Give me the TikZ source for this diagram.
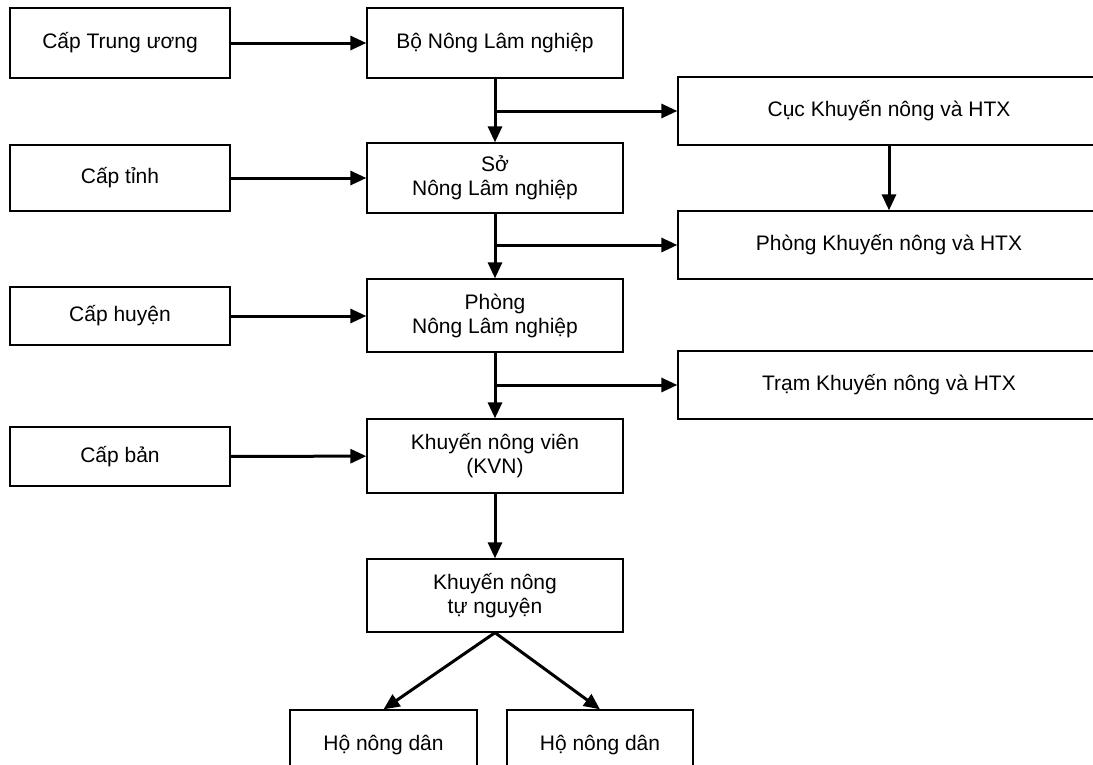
\documentclass[tikz,border=0pt]{standalone}
\usepackage{fontspec}
\setmainfont{Liberation Sans}
\usetikzlibrary{positioning,calc,arrows.meta}

\tikzset{
  box/.style={draw, line width=1.3pt, align=center, inner sep=0pt,
    font=\fontsize{21}{24}\selectfont},
  arr/.style={line width=3pt, -{Triangle[length=16pt,width=14pt]}}
}

\begin{document}
\begin{tikzpicture}[x=1pt, y=-1pt]
		\useasboundingbox (0,0) rectangle (1093,764);
		\clip (0,0) rectangle (1093,764);
		% levels
		\node[name=tw, box, minimum width=220pt, minimum height=70pt] at (120,43) {Cấp Trung ương};
		\node[name=tinh, box, minimum width=220pt, minimum height=66pt] at (120,178) {Cấp tỉnh};
		\node[name=huyen, box, minimum width=220pt, minimum height=58pt] at (120,316) {Cấp huyện};
		\node[name=ban, box, minimum width=220pt, minimum height=59pt] at (120,456.5) {Cấp bản};
		% middle column
		\node[name=bo, box, minimum width=256pt, minimum height=70pt] at (495,43) {Bộ Nông Lâm nghiệp};
		\node[name=so, box, minimum width=256pt, minimum height=70pt] at (495,178) {Sở\\Nông Lâm nghiệp};
		\node[name=phong, box, minimum width=256pt, minimum height=73pt] at (495,315.5) {Phòng\\Nông Lâm nghiệp};
		\node[name=knv, box, minimum width=256pt, minimum height=74pt] at (495,456) {Khuyến nông viên\\(KVN)};
		\node[name=kntn, box, minimum width=256pt, minimum height=73pt] at (495,595.5) {Khuyến nông\\tự nguyện};
		% right column
		\node[name=cuc, box, minimum width=422pt, minimum height=68pt] at (889,111) {Cục Khuyến nông và HTX};
		\node[name=pkn, box, minimum width=422pt, minimum height=68pt] at (889,245) {Phòng Khuyến nông và HTX};
		\node[name=tram, box, minimum width=422pt, minimum height=68pt] at (889,385) {Trạm Khuyến nông và HTX};
		% households
		\node[name=ho1, box, minimum width=187pt, minimum height=70pt] at (383.5,745) {Hộ nông dân};
		\node[name=ho2, box, minimum width=186pt, minimum height=70pt] at (600,745) {Hộ nông dân};

		\draw[arr] (tw) -- (bo);
		\draw[arr] (tinh) -- (so);
		\draw[arr] (huyen.east) -- (huyen.east -| phong.west);
		\draw[arr] (ban) -- (knv);

		\draw[arr] (bo) -- (so);
		\draw[arr] (bo.south |- cuc.west) -- (cuc.west);
		\draw[arr] (cuc) -- (pkn);
		\draw[arr] (so) -- (phong);
		\draw[arr] (so.south |- pkn.west) -- (pkn.west);
		\draw[arr] (phong) -- (knv);
		\draw[arr] (phong.south |- tram.west) -- (tram.west);
		\draw[arr] (knv) -- (kntn);

		\draw[arr] (kntn.south) -- (ho1.north);
		\draw[arr] (kntn.south) -- (ho2.north);
	\end{tikzpicture}
\end{document}
